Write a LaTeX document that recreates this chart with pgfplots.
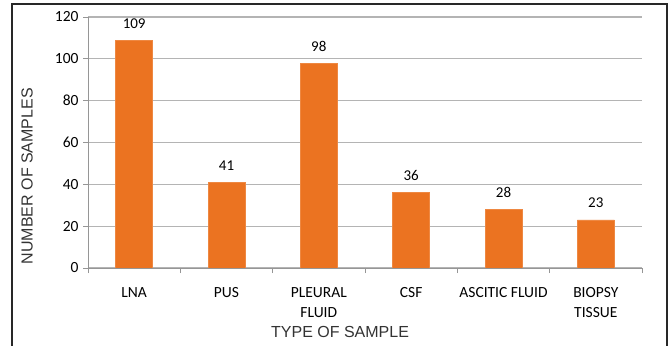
\documentclass[border=0pt]{standalone}
\usepackage{pgfplots}
\pgfplotsset{compat=1.18}
\usepackage{fontspec}
\setmainfont{Carlito}
\newfontfamily\arialf{Liberation Sans}
\definecolor{barorange}{RGB}{235,115,33}
\definecolor{gridgray}{RGB}{180,180,180}
\definecolor{axgray}{RGB}{150,150,150}
\begin{document}
\begin{tikzpicture}
\useasboundingbox (0,0) rectangle (670bp,346bp);
\draw[draw={rgb,255:red,40;green,40;blue,40}, line width=1.3bp] (12bp,0) -- (12bp,342bp) -- (667bp,342bp) -- (667bp,0);
\begin{axis}[
  at={(88bp,78bp)}, anchor=south west,
  scale only axis, width=554bp, height=251bp,
  xmin=-0.5, xmax=5.5, ymin=0, ymax=120,
  axis lines*=left,
  axis line style={draw=axgray, line width=0.9bp},
  ytick={0,20,...,120},
  ymajorgrids, grid style={draw=gridgray, line width=1.2bp},
  tick align=outside, major tick length=5bp,
  tick style={draw=axgray, line width=0.9bp},
  xtick={-0.5,0.5,...,5.5}, xticklabels={},
  extra x ticks={0,1,2,3,4,5},
  extra x tick labels={LNA, PUS, {PLEURAL\\FLUID}, CSF, ASCITIC FLUID, {BIOPSY\\TISSUE}},
  extra x tick style={major tick length=0pt, grid=none},
  xticklabel style={align=center, font=\fontsize{15.5bp}{20bp}\selectfont, yshift=-16bp},
  yticklabel style={font=\fontsize{15.5bp}{18bp}\selectfont, xshift=-1bp},
  /pgf/number format/assume math mode=true,
  ylabel={NUMBER OF SAMPLES},
  xlabel={TYPE OF SAMPLE},
  ylabel style={at={(axis description cs:-0.110,0.366)}, anchor=center, rotate=0, font=\arialf\fontsize{16bp}{18bp}\selectfont, text=black!80},
  xlabel style={at={(axis description cs:0.455,-0.255)}, anchor=center, font=\arialf\fontsize{16bp}{18bp}\selectfont, text=black!80},
  nodes near coords,
  every node near coord/.append style={font=\fontsize{15bp}{18bp}\selectfont, anchor=base, yshift=12bp},
]
\addplot[ybar, bar width=37bp, fill=barorange, draw=barorange!85!white] coordinates {
  (0,109) (1,41) (2,98) (3,36) (4,28) (5,23)
};
\end{axis}
\end{tikzpicture}
\end{document}
